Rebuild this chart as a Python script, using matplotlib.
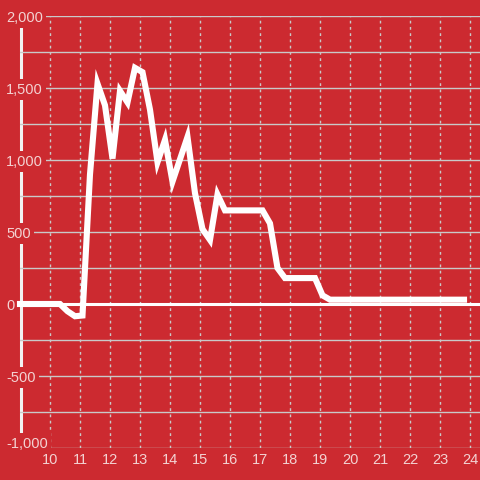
import matplotlib

matplotlib.use("Agg")
import matplotlib.pyplot as plt  # noqa: E402
from matplotlib.ticker import FuncFormatter, MultipleLocator  # noqa: E402
from matplotlib.transforms import ScaledTranslation  # noqa: E402

# vertices of the series, hours of day vs value
hours = [9.0, 10.333, 10.583, 10.833, 11.083, 11.333, 11.583, 11.833, 12.083,
         12.333, 12.583, 12.833, 13.083, 13.333, 13.583, 13.833, 14.083,
         14.583, 14.833, 15.083, 15.333, 15.583, 15.833, 17.083, 17.333,
         17.583, 17.833, 18.833, 19.083, 19.333, 23.8]
values = [0, 0, -50, -85, -80, 900, 1530, 1380, 1010,
          1480, 1400, 1640, 1610, 1350, 985, 1140, 850,
          1160, 770, 520, 445, 760, 650, 650, 560,
          250, 180, 180, 60, 30, 30]

x_ticks = list(range(10, 25))
y_ticks = [-1000, -500, 0, 500, 1000, 1500, 2000]

RED = "#cc2a30"
LABEL = "#f3d2d2"
GRID = "#c9c9c9"

plt.rcParams["font.family"] = ["Liberation Sans", "DejaVu Sans"]
plt.rcParams["axes.unicode_minus"] = False

fig = plt.figure(figsize=(4.8, 4.8), dpi=100, facecolor=RED)
ax = fig.add_axes([20 / 480, 32 / 480, 460 / 480, 432 / 480], facecolor=RED)
ax.set_axisbelow(True)

ax.set_xlim(9, 24.333)
ax.set_ylim(-1000, 2000)
for s in ax.spines.values():
    s.set_visible(False)

ax.set_xticks(x_ticks)
ax.set_yticks(y_ticks)
ax.yaxis.set_minor_locator(MultipleLocator(250))
ax.yaxis.set_major_formatter(FuncFormatter(lambda v, _: f"{v:,.0f}"))

ax.grid(axis="y", which="both", color=GRID, lw=1.0, ls="-")
ax.grid(axis="x", which="major", color=GRID, lw=1.0, ls=(0, (2, 2.5)))

ax.tick_params(axis="y", which="both", length=0, pad=10.1, labelsize=10.5,
               labelcolor=LABEL)
ax.tick_params(axis="x", length=0, pad=3.6, labelsize=10.5, labelcolor=LABEL)
for lbl in ax.get_yticklabels():
    lbl.set_horizontalalignment("left")
    lbl.set_bbox(dict(facecolor=RED, edgecolor="none", pad=2.5))

# lowest label sits a little above its gridline
low = ax.yaxis.get_major_ticks()[0].label1
low.set_transform(low.get_transform() + ScaledTranslation(0, 6 / 100, fig.dpi_scale_trans))

# left axis bar, sits under the tick labels
ax.axvline(9.017, color="#f2f2f2", lw=2.2, zorder=0.4, clip_on=False)
ax.axhline(0, color="white", lw=2.2, zorder=2)
ax.plot(hours, values, color="white", lw=4.4, solid_capstyle="projecting",
        solid_joinstyle="miter", zorder=3, clip_on=False)

fig.savefig("out.png", dpi=100, facecolor=RED)
